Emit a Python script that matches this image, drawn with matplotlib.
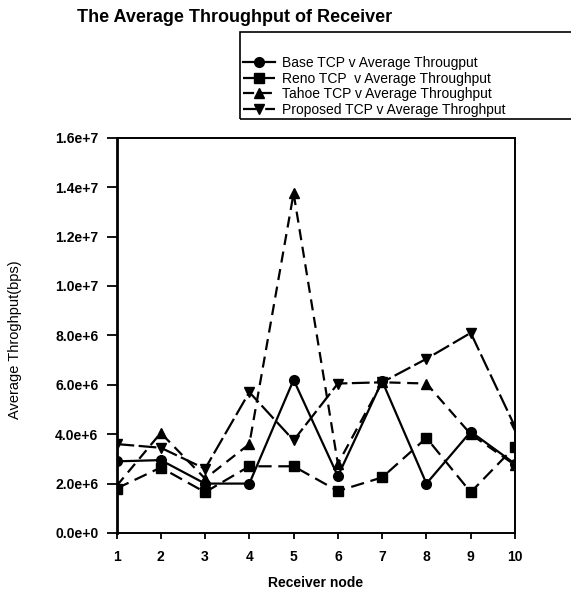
import numpy as np
import matplotlib
matplotlib.use("Agg")
import matplotlib.pyplot as plt
from matplotlib.patches import Rectangle
from matplotlib.ticker import FuncFormatter

plt.rcParams['font.family'] = ['Liberation Sans', 'DejaVu Sans']

# receiver nodes and throughput (bps) per variant
nodes = [1, 2, 3, 4, 5, 6, 7, 8, 9, 10]
base_tcp = [2.9e6, 2.95e6, 2.0e6, 2.0e6, 6.2e6, 2.3e6, 6.15e6, 2.0e6, 4.1e6, 2.8e6]
reno_tcp = [1.8e6, 2.65e6, 1.65e6, 2.7e6, 2.7e6, 1.7e6, 2.25e6, 3.85e6, 1.65e6, 3.5e6]
tahoe_tcp = [1.9e6, 4.05e6, 2.2e6, 3.6e6, 13.75e6, 2.8e6, 6.1e6, 6.05e6, 4.0e6, 2.75e6]
proposed_tcp = [3.6e6, 3.45e6, 2.6e6, 5.7e6, 3.75e6, 6.05e6, 6.1e6, 7.05e6, 8.1e6, 4.3e6]

labels = ["Base TCP v Average Througput",
          "Reno TCP  v Average Throughput",
          "Tahoe TCP v Average Throughput",
          "Proposed TCP v Average Throghput"]
y_ticks = np.arange(0, 1.7e7, 2e6)

W, H = 571, 590


def sci_label(v, pos):
    if v == 0:
        return "0.0e+0"
    e = int(np.floor(np.log10(abs(v))))
    return f"{v / 10**e:.1f}e+{e}"


fig = plt.figure(figsize=(5.71, 5.90), dpi=100)
ax = fig.add_axes([116.5 / W, 1 - 533 / H, 398.5 / W, 395.3 / H])

ax.plot(nodes, base_tcp, color='black', lw=1.6, ls='-', marker='o', ms=7, label=labels[0])
ax.plot(nodes, reno_tcp, color='black', lw=1.6, ls=(0, (6, 3)), marker='s', ms=7, label=labels[1])
ax.plot(nodes, tahoe_tcp, color='black', lw=1.6, ls=(0, (5, 3)), marker='^', ms=7, label=labels[2])
ax.plot(nodes, proposed_tcp, color='black', lw=1.6, ls=(0, (8, 2)), marker='v', ms=7, label=labels[3])

ax.set_xlim(1, 10)
ax.set_ylim(0, 1.6e7)
ax.set_xticks(nodes)
ax.set_yticks(y_ticks)
ax.yaxis.set_major_formatter(FuncFormatter(sci_label))
ax.tick_params(axis='y', direction='out', length=7, width=1.3, labelsize=10, pad=6)
ax.tick_params(axis='x', direction='out', length=4, width=1.3, labelsize=10, pad=8)
for lab in ax.get_xticklabels() + ax.get_yticklabels():
    lab.set_fontweight('bold')
for side in ['top', 'right', 'bottom']:
    ax.spines[side].set_linewidth(1.4)
ax.spines['left'].set_linewidth(2.0)

ax.set_xlabel("Receiver node", fontsize=10, fontweight='bold', labelpad=9)
fig.text(15 / W, 1 - 340 / H, "Average Throghput(bps)", fontsize=10.5,
         rotation=90, ha='center', va='center')

fig.text(77 / W, 1 - 18 / H, "The Average Throughput of Receiver", fontsize=13,
         fontweight='bold', va='center', ha='left')

# legend box runs off the right edge in the original
fig.patches.append(Rectangle((240 / W, 1 - 119 / H), 340 / W, 87 / H,
                             transform=fig.transFigure, fill=False,
                             edgecolor='black', lw=1.2, clip_on=False))
leg = fig.legend(loc='upper left', bbox_to_anchor=(243 / W, 1 - 56 / H),
                 fontsize=10, frameon=False, handlelength=2.3,
                 handletextpad=0.5, labelspacing=0.12, borderpad=0,
                 borderaxespad=0)

fig.savefig("out.png", dpi=100)
